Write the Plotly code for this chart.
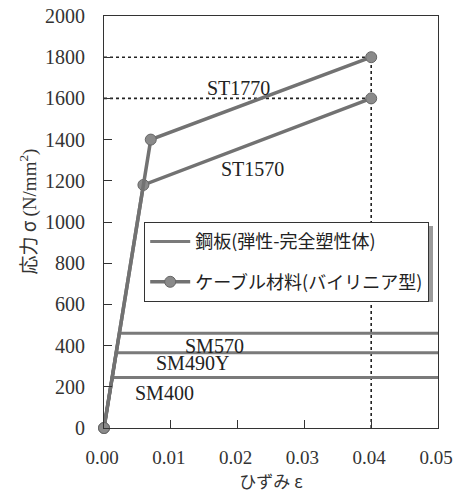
import plotly.graph_objects as go

# Steel plates: elastic-perfectly plastic, yield stress (N/mm2)
steel_names = ["SM400", "SM490Y", "SM570"]
steel_yield = [245, 365, 460]
youngs_modulus = 200000.0  # N/mm2
strain_max = 0.05

# Cables: bilinear model (origin -> yield -> ultimate)
cable_names = ["ST1570", "ST1770"]
cable_strain = [[0.0, 0.0059, 0.04], [0.0, 0.0070, 0.04]]
cable_stress = [[0, 1180, 1600], [0, 1400, 1800]]

x_ticks = [0.00, 0.01, 0.02, 0.03, 0.04, 0.05]
y_ticks = [0, 200, 400, 600, 800, 1000, 1200, 1400, 1600, 1800, 2000]

SERIF = "Liberation Serif"
JP = "Noto Sans CJK JP"
LINE_GREY = "#7a7a7a"

fig = go.Figure()

# reference dotted guides at the ultimate points of the cables
x_ult = cable_strain[0][-1]
for s in cable_stress:
    fig.add_trace(go.Scatter(x=[0, x_ult], y=[s[-1], s[-1]], mode="lines",
                             line=dict(color="#222", width=1.6, dash="dot"),
                             showlegend=False, hoverinfo="skip"))
fig.add_trace(go.Scatter(x=[x_ult, x_ult], y=[0, max(c[-1] for c in cable_stress)],
                         mode="lines", line=dict(color="#222", width=1.6, dash="dot"),
                         showlegend=False, hoverinfo="skip"))

# steel plate curves
for i, (name, fy) in enumerate(zip(steel_names, steel_yield)):
    fig.add_trace(go.Scatter(
        x=[0, fy / youngs_modulus, strain_max], y=[0, fy, fy], mode="lines",
        line=dict(color=LINE_GREY, width=3),
        name="鋼板(弾性-完全塑性体)", legendgroup="steel",
        showlegend=(i == 0), cliponaxis=False))

# cable curves
for i, (name, xs, ys) in enumerate(zip(cable_names, cable_strain, cable_stress)):
    fig.add_trace(go.Scatter(
        x=xs, y=ys, mode="lines+markers",
        line=dict(color="#727272", width=3.5),
        marker=dict(size=11, color="#8a8a8a", line=dict(color="#666", width=1)),
        name="ケーブル材料(バイリニア型)", legendgroup="cable",
        showlegend=(i == 0), cliponaxis=False))

# material labels
labels = [("ST1770", 0.0201, 1650), ("ST1570", 0.0223, 1257),
          ("SM570", 0.0166, 397), ("SM490Y", 0.0133, 316), ("SM400", 0.0091, 169)]
for text, lx, ly in labels:
    fig.add_annotation(x=lx, y=ly, text=text, showarrow=False,
                       xanchor="center", yanchor="middle",
                       font=dict(family=SERIF, size=20, color="#222"))

# y-axis title
fig.add_annotation(xref="paper", yref="paper", x=-0.228, y=0.525,
                   xanchor="center", yanchor="middle",
                   text=("<span style='font-family:Noto Sans CJK JP'>応力 σ </span>"
                         "(N/mm<sup>2</sup>)"),
                   textangle=-90, showarrow=False,
                   font=dict(family=SERIF, size=19, color="#333"))

# legend drop shadow
px_to_x = lambda px: (px - 104) / 334
px_to_y = lambda py: (428 - py) / 412
fig.add_shape(type="rect", xref="paper", yref="paper",
              x0=px_to_x(148), x1=px_to_x(433), y0=px_to_y(302), y1=px_to_y(226),
              fillcolor="#9a9a9a", line=dict(width=0), layer="above")

fig.update_layout(
    width=453, height=501,
    margin=dict(l=104, r=15, t=16, b=73),
    paper_bgcolor="white", plot_bgcolor="white",
    font=dict(family=SERIF, color="#333"),
    showlegend=True,
    legend=dict(x=px_to_x(144), y=px_to_y(222), xanchor="left", yanchor="top",
                bgcolor="white", bordercolor="#333", borderwidth=1.2,
                font=dict(family=JP, size=18, color="#222"),
                tracegroupgap=14, itemwidth=40),
    xaxis=dict(range=[0, 0.05], tickvals=x_ticks, ticktext=[f"{v:.2f}" for v in x_ticks],
               ticks="inside", ticklen=8, tickcolor="#333", showgrid=False, zeroline=False,
               showline=True, linecolor="#333", linewidth=1.2, mirror=True,
               ticklabelstandoff=12, ticklabelshift=-2, ticklabeloverflow="allow",
               automargin=False,
               tickfont=dict(family=SERIF, size=19, color="#333"),
               title=dict(text="ひずみ ε", font=dict(family=JP, size=17, color="#333"),
                          standoff=4)),
    yaxis=dict(range=[0, 2000], tickvals=y_ticks,
               ticks="inside", ticklen=8, tickcolor="#333", showgrid=False, zeroline=False,
               showline=True, linecolor="#333", linewidth=1.2, mirror=True,
               ticklabelstandoff=14, automargin=False,
               tickfont=dict(family=SERIF, size=20, color="#333")),
)

fig.write_html("out.html")
